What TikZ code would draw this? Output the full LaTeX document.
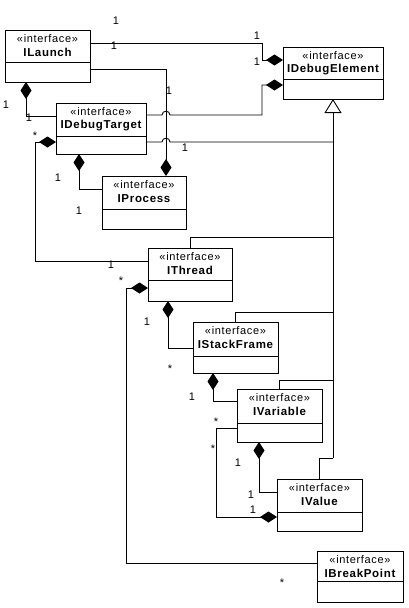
\documentclass[tikz,border=0pt]{standalone}
\usepackage{fontspec}
\setmainfont{Liberation Sans}
\newfontfamily\spacedfont[LetterSpace=6]{Liberation Sans}
\usetikzlibrary{arrows.meta,calc}
\tikzset{
  cls/.style={draw, line width=0.9pt, inner sep=0pt, outer sep=0pt, fill=white},
  stereo/.style={font=\spacedfont\fontsize{11}{12}\selectfont, inner sep=0pt},
  cname/.style={font=\spacedfont\fontsize{11.5}{13}\selectfont\bfseries, inner sep=0pt},
  lbl/.style={font=\fontsize{11}{12}\selectfont, inner sep=0pt},
  conn/.style={line width=0.9pt},
  comp/.style={conn, -{Diamond[length=17pt,width=11pt,fill=black]}},
  gen/.style={conn, -{Triangle[open,length=14pt,width=17pt,fill=white]}},
}
\newcommand{\umlclass}[8]{%
  % #1 name, #2 cx, #3 cy, #4 w, #5 h, #6 divider y, #7 top y, #8 label
  \node[cls, minimum width=#4pt, minimum height=#5pt] (#1) at (#2,#3) {};
  \draw[line width=0.9pt] (#1.west |- 0,#6) -- (#1.east |- 0,#6);
  \node[stereo] (#1-st) at ($(#1.north)+(0,8.5)$) {«interface»};
  \node[cname] (#1-nm) at ($(#1.north)+(0,22.5)$) {#8};
}
\begin{document}
\begin{tikzpicture}[x=1pt,y=-1pt]
\useasboundingbox (0,0) rectangle (408,608);
\fill[white] (0,0) rectangle (408,608);

\umlclass{ilaunch}{47.5}{56}{85}{52}{62}{30}{ILaunch}
\umlclass{idebugelement}{333}{73}{100}{52}{79}{47}{IDebugElement}
\umlclass{idebugtarget}{101}{128.5}{90}{51}{136}{103}{IDebugTarget}
\umlclass{iprocess}{144}{202.5}{84}{53}{209}{176}{IProcess}
\umlclass{ithread}{190}{274.5}{84}{53}{280}{248}{IThread}
\umlclass{istackframe}{235.5}{347.5}{85}{51}{356}{322}{IStackFrame}
\umlclass{ivariable}{279.5}{415.5}{85}{53}{423}{389}{IVariable}
\umlclass{ivalue}{319.5}{505}{85}{52}{512}{479}{IValue}
\umlclass{ibreakpoint}{360}{576.5}{86}{51}{581}{551}{IBreakPoint}

% generalization tree
\coordinate (gtrunk) at (333,458);
\draw[gen] (gtrunk) -- (idebugelement.south);
\draw[conn] (idebugtarget.east |- 0,142) -- (162,142)
  .. controls (162,137) and (170,137) .. (170,142) -- (333,142);
\draw[conn] (ithread.north) |- (333,237);
\draw[conn] (istackframe.north) |- (333,312);
\draw[conn] (ivariable.north) |- (333,380);
\draw[conn] (ivalue.north) |- (gtrunk);

% ILaunch -> IDebugElement
\draw[comp] (ilaunch.east |- 0,43) -| (262,60) -- (idebugelement.west |- 0,60);
% ILaunch -> IProcess
\draw[comp] (ilaunch.east |- 0,69) -| (iprocess.north -| 166,0);
% IDebugTarget -> IDebugElement
\draw[comp] (idebugtarget.east |- 0,115) -- (162,115)
  .. controls (162,110) and (170,110) .. (170,115) -| (262,85) -- (idebugelement.west |- 0,85);
% ILaunch -> IDebugTarget
\draw[comp] (idebugtarget.west |- 0,116) -| (ilaunch.south -| 26,0);
% IDebugTarget -> IThread
\draw[comp] (ithread.west |- 0,261) -| (35,142) -- (idebugtarget.west |- 0,142);
% IDebugTarget -> IProcess
\draw[comp] (iprocess.west |- 0,189) -| (idebugtarget.south -| 79,0);
% IThread -> IStackFrame
\draw[comp] (istackframe.west |- 0,348) -| (ithread.south -| 168,0);
% IThread -> IBreakPoint
\draw[comp] (ibreakpoint.west |- 0,563) -| (126,288) -- (ithread.west |- 0,288);
% IStackFrame -> IVariable
\draw[comp] (ivariable.west |- 0,401) -| (istackframe.south -| 213,0);
% IValue <- IVariable
\draw[comp] (ivariable.west |- 0,428) -| (216,517) -- (ivalue.west |- 0,517);
% IVariable -> IValue
\draw[comp] (ivalue.west |- 0,492) -| (ivariable.south -| 259,0);

% multiplicities
\node[lbl] (m1) at (116,21) {1};
\node[lbl] (m2) at (114,46) {1};
\node[lbl] (m3) at (257,36) {1};
\node[lbl] (m4) at (257,62) {1};
\node[lbl] (m5) at (169,91) {1};
\node[lbl] (m6) at (185,148) {1};
\node[lbl] (m7) at (6,105) {1};
\node[lbl] (m8) at (29,118) {1};
\node[lbl] (m9) at (35,136) {*};
\node[lbl] (m10) at (58,178) {1};
\node[lbl] (m11) at (79,211) {1};
\node[lbl] (m12) at (111,265) {1};
\node[lbl] (m13) at (121,281) {*};
\node[lbl] (m14) at (147,322) {1};
\node[lbl] (m15) at (170,369) {*};
\node[lbl] (m16) at (192,397) {1};
\node[lbl] (m17) at (216,422) {*};
\node[lbl] (m18) at (213,449) {*};
\node[lbl] (m19) at (238,463) {1};
\node[lbl] (m20) at (251,495) {1};
\node[lbl] (m21) at (253,510) {1};
\node[lbl] (m22) at (282,583) {*};
\end{tikzpicture}
\end{document}
